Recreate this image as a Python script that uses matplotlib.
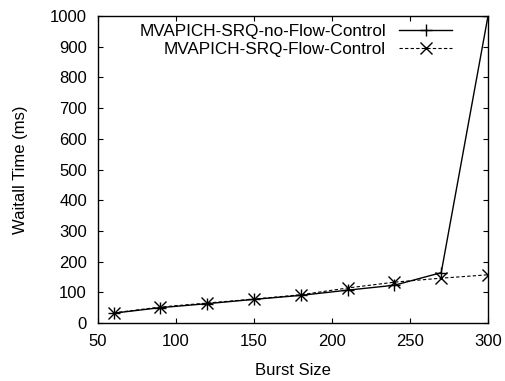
import matplotlib
matplotlib.use("Agg")
import matplotlib.pyplot as plt

plt.rcParams['font.family'] = ['Liberation Sans', 'DejaVu Sans']

burst = [60, 90, 120, 150, 180, 210, 240, 270, 300]
no_flow = [32, 50, 63, 77, 90, 107, 123, 164, 1000]
flow = [33, 52, 65, 78, 92, 114, 133, 146, 157]
xticks = [50, 100, 150, 200, 250, 300]
yticks = list(range(0, 1001, 100))

W, H = 506, 381
L, R, T, B = 98, 488, 16, 323
fig = plt.figure(figsize=(W/100, H/100), dpi=100)
ax = fig.add_axes([L/W, (H-B)/H, (R-L)/W, (B-T)/H])

ax.plot(burst, no_flow, color='black', lw=1.0, marker='+', ms=9, mew=1.0,
        label='MVAPICH-SRQ-no-Flow-Control')
ax.plot(burst, flow, color='black', lw=0.8, ls=(0, (3, 2)), marker='x', ms=8, mew=1.0,
        label='MVAPICH-SRQ-Flow-Control')

ax.set_xlim(50, 300)
ax.set_ylim(0, 1000)
ax.set_xticks(xticks)
ax.set_yticks(yticks)
ax.tick_params(direction='in', top=True, right=True, labelsize=12, length=3.5, width=0.8, pad=8)
for s in ax.spines.values():
    s.set_linewidth(1.0)
ax.set_xlabel('Burst Size', fontsize=12, labelpad=10)
ax.set_ylabel('Waitall Time (ms)', fontsize=12, labelpad=16)

leg = ax.legend(loc='upper right', markerfirst=False, frameon=False, fontsize=12.3,
                handlelength=3.1, handletextpad=0.75, labelspacing=0.15,
                borderpad=0, borderaxespad=0,
                bbox_to_anchor=((452-L)/(R-L), (B-24)/(B-T)))

fig.savefig('out.png', dpi=100)
